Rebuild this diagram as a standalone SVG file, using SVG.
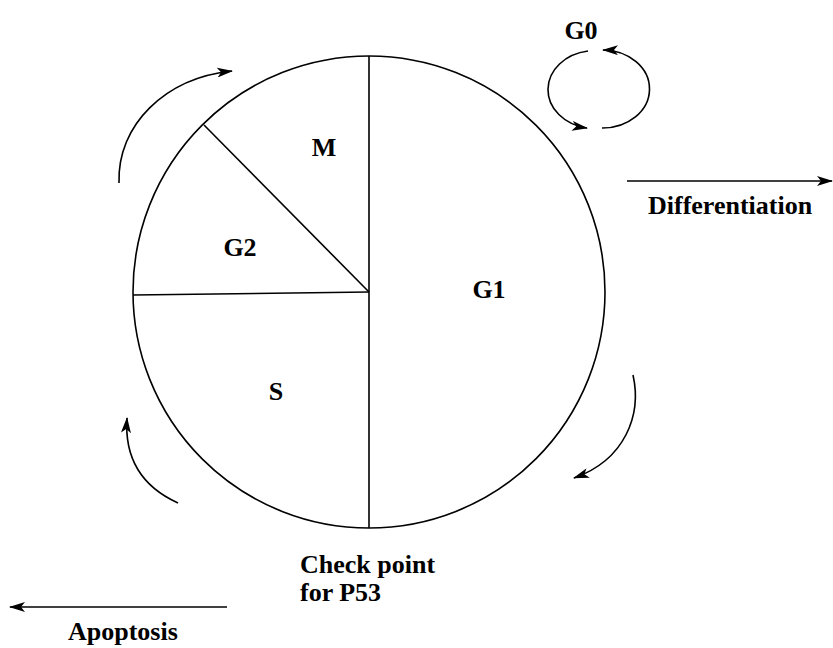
<svg xmlns="http://www.w3.org/2000/svg" width="833" height="648" viewBox="0 0 833 648">
<style>
  .ln { fill: none; stroke: #000; stroke-width: 1.6; }
  .div { fill: none; stroke: #000; stroke-width: 1.6; }
  .arr { fill: none; stroke: #000; stroke-width: 1.6; marker-end: url(#ah); }
  text { font-family: "Liberation Serif", "Times New Roman", serif; font-weight: bold; font-size: 26px; fill: #000; }
</style>
<defs>
  <marker id="ah" viewBox="0 0 16 10" refX="15" refY="5" markerWidth="16" markerHeight="10" markerUnits="userSpaceOnUse" orient="auto">
    <path d="M0,0 L16,5 L0,10 L4,5 Z" fill="#000"/>
  </marker>
</defs>
<rect width="833" height="648" fill="#fff"/>

<g id="cycle">
  <circle cx="369" cy="292" r="236" class="ln"/>
  <line x1="369" y1="56" x2="369" y2="528" class="div" stroke-width="2"/>
  <line x1="369" y1="292" x2="133" y2="295" class="div"/>
  <line x1="369" y1="292" x2="204" y2="125" class="div"/>
</g>

<g id="node-M"><text x="324" y="156" text-anchor="middle">M</text></g>
<g id="node-G2"><text x="240" y="256" text-anchor="middle">G2</text></g>
<g id="node-G1"><text x="489" y="298" text-anchor="middle">G1</text></g>
<g id="node-S"><text x="276" y="400" text-anchor="middle">S</text></g>
<g id="node-G0"><text x="581" y="39" text-anchor="middle">G0</text></g>
<g id="node-differentiation"><text x="648" y="214">Differentiation</text></g>
<g id="node-checkpoint"><text x="300" y="573">Check point</text><text x="300" y="601">for P53</text></g>
<g id="node-apoptosis"><text x="68" y="640">Apoptosis</text></g>

<g id="connectors">
  <path class="arr" d="M119,183 C117,125 165,78 232,71"/>
  <path class="arr" d="M178,503 C145,488 124,462 127,418"/>
  <path class="arr" d="M633,375 C642,415 625,460 574,478"/>
  <path class="arr" d="M588,51 A47,39 0 0 0 587,128"/>
  <path class="arr" d="M602,128 A47,39 0 0 0 603,50"/>
  <path class="arr" d="M627,181 L832,181"/>
  <path class="arr" d="M227,607 L10,607"/>
</g>
</svg>
